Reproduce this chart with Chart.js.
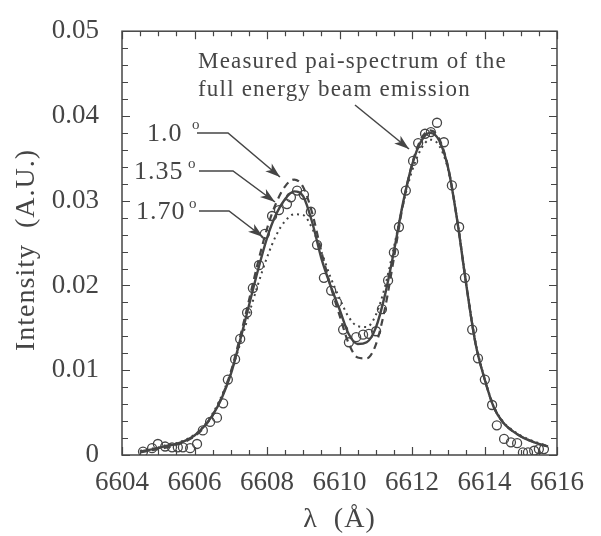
<!DOCTYPE html>
<html>
<head>
<meta charset="utf-8">
<script src="https://cdn.jsdelivr.net/npm/chart.js@4"></script>
<style>
  html, body { margin: 0; padding: 0; background: #ffffff; }
  canvas { display: block; }
</style>
</head>
<body>
<canvas id="chart" width="601" height="536"></canvas>
<script>
// wavelength grid of the fitted curves (Angstrom)
const lambdaFit = [
  6604.5, 6604.75, 6605.0, 6605.25, 6605.5, 6605.75, 6606.0, 6606.25, 6606.5, 6606.75,
  6607.0, 6607.25, 6607.5, 6607.75, 6608.0, 6608.25, 6608.5, 6608.75, 6609.0, 6609.25,
  6609.5, 6609.75, 6610.0, 6610.25, 6610.5, 6610.75, 6611.0, 6611.25, 6611.5, 6611.75,
  6612.0, 6612.25, 6612.5, 6612.75, 6613.0, 6613.25, 6613.5, 6613.75, 6614.0, 6614.25,
  6614.5, 6614.75, 6615.0, 6615.25, 6615.5, 6615.75
];
// 1.0 deg (dashed)
const fit10 = [
  0.0003, 0.0005, 0.0007, 0.0009, 0.0012, 0.0016, 0.0022, 0.0032, 0.0047, 0.0068,
  0.0098, 0.0138, 0.0182, 0.0227, 0.0267, 0.0297, 0.0317, 0.0325, 0.0316, 0.0285,
  0.0240, 0.0200, 0.0165, 0.0132, 0.0115, 0.0114, 0.0130, 0.0172, 0.0232, 0.0295,
  0.0343, 0.0373, 0.0383, 0.0373, 0.0339, 0.0276, 0.0200, 0.0132, 0.0090, 0.0057,
  0.0039, 0.0029, 0.0022, 0.0017, 0.0013, 0.0010
];
// 1.35 deg (solid)
const fit135 = [
  0.0004, 0.0006, 0.0008, 0.0011, 0.0013, 0.0017, 0.0023, 0.0033, 0.0047, 0.0067,
  0.0095, 0.0134, 0.0176, 0.0218, 0.0256, 0.0284, 0.0302, 0.0311, 0.0305, 0.0274,
  0.0232, 0.0200, 0.0172, 0.0143, 0.0131, 0.0133, 0.0150, 0.0188, 0.0240, 0.0297,
  0.0342, 0.0370, 0.0380, 0.0371, 0.0338, 0.0276, 0.0200, 0.0132, 0.0090, 0.0057,
  0.0039, 0.0029, 0.0022, 0.0017, 0.0013, 0.0010
];
// 1.70 deg (dotted)
const fit170 = [
  0.0005, 0.0007, 0.0009, 0.0012, 0.0014, 0.0018, 0.0024, 0.0034, 0.0049, 0.0070,
  0.0097, 0.0130, 0.0166, 0.0201, 0.0233, 0.0259, 0.0276, 0.0284, 0.0283, 0.0267,
  0.0240, 0.0210, 0.0185, 0.0163, 0.0152, 0.0151, 0.0165, 0.0198, 0.0245, 0.0295,
  0.0335, 0.0361, 0.0372, 0.0365, 0.0336, 0.0277, 0.0202, 0.0134, 0.0091, 0.0058,
  0.0040, 0.0030, 0.0023, 0.0018, 0.0014, 0.0011
];

// measured pai-spectrum (circles)
const lambdaMeas = [
  6604.58, 6604.83, 6604.99, 6605.19, 6605.38, 6605.54, 6605.68, 6605.88, 6606.07, 6606.23,
  6606.43, 6606.62, 6606.79, 6606.92, 6607.12, 6607.26, 6607.45, 6607.61, 6607.78, 6607.94,
  6608.14, 6608.33, 6608.55, 6608.66, 6608.83, 6609.02, 6609.21, 6609.38, 6609.57, 6609.77,
  6609.93, 6610.10, 6610.26, 6610.46, 6610.65, 6610.81, 6611.01, 6611.17, 6611.34, 6611.50,
  6611.64, 6611.83, 6612.03, 6612.17, 6612.36, 6612.52, 6612.69, 6612.88, 6613.10, 6613.30,
  6613.46, 6613.66, 6613.82, 6614.01, 6614.21, 6614.34, 6614.54, 6614.73, 6614.90, 6615.06,
  6615.20, 6615.37, 6615.50, 6615.64
];
const measured = [
  0.0004, 0.0008, 0.0013, 0.0010, 0.0009, 0.0009, 0.0009, 0.0008, 0.0013, 0.0029,
  0.0039, 0.0044, 0.0061, 0.0089, 0.0113, 0.0137, 0.0168, 0.0197, 0.0224, 0.0261,
  0.0282, 0.0289, 0.0296, 0.0304, 0.0312, 0.0307, 0.0287, 0.0248, 0.0209, 0.0194,
  0.0180, 0.0148, 0.0133, 0.0139, 0.0142, 0.0143, 0.0146, 0.0172, 0.0206, 0.0239,
  0.0269, 0.0312, 0.0347, 0.0368, 0.0379, 0.0381, 0.0392, 0.0369, 0.0318, 0.0269,
  0.0209, 0.0148, 0.0114, 0.0089, 0.0059, 0.0035, 0.0019, 0.0015, 0.0014, 0.0003,
  0.0003, 0.0005, 0.0007, 0.0007
];

const xTicks = [6604, 6606, 6608, 6610, 6612, 6614, 6616];
const yTicks = [0, 0.01, 0.02, 0.03, 0.04, 0.05];

const INK = "#454545";
const SERIF = "'Liberation Serif', 'Times New Roman', serif";

function toPoints(xs, ys) {
  return xs.map((x, i) => ({ x: x, y: ys[i] }));
}

function lineSet(label, ys, dash, width) {
  return {
    label: label,
    data: toPoints(lambdaFit, ys),
    showLine: true,
    borderColor: INK,
    borderWidth: width,
    borderDash: dash,
    pointRadius: 0,
    cubicInterpolationMode: "monotone",
    fill: false,
  };
}

// frame, inward ticks, axis titles and annotations
const decorations = {
  id: "decorations",
  beforeDraw(chart) {
    const ctx = chart.ctx;
    ctx.save();
    ctx.fillStyle = "#ffffff";
    ctx.fillRect(0, 0, chart.width, chart.height);
    ctx.restore();
  },
  afterDraw(chart) {
    const ctx = chart.ctx;
    const a = chart.chartArea;
    const xs = chart.scales.x;
    const ys = chart.scales.y;
    ctx.save();
    ctx.strokeStyle = INK;
    ctx.lineWidth = 1.5;
    ctx.strokeRect(a.left, a.top, a.right - a.left, a.bottom - a.top);

    ctx.lineWidth = 1.2;
    ctx.beginPath();
    for (let v = 6604; v <= 6616.001; v += 0.5) {
      const px = Math.round(xs.getPixelForValue(v)) + 0.5;
      const len = Math.abs(v % 2) < 0.01 ? 8 : 5;
      ctx.moveTo(px, a.bottom); ctx.lineTo(px, a.bottom - len);
      ctx.moveTo(px, a.top); ctx.lineTo(px, a.top + len);
    }
    for (let k = 0; k <= 25; k++) {
      const py = Math.round(ys.getPixelForValue(k * 0.002)) + 0.5;
      const len = k % 5 === 0 ? 8 : 6;
      ctx.moveTo(a.left, py); ctx.lineTo(a.left + len, py);
      ctx.moveTo(a.right, py); ctx.lineTo(a.right - len, py);
    }
    ctx.stroke();

    ctx.fillStyle = INK;
    ctx.textBaseline = "middle";

    // axis titles
    ctx.font = "28px " + SERIF;
    ctx.letterSpacing = "1px";
    ctx.textAlign = "center";
    ctx.fillText("λ  (Å)", (a.left + a.right) / 2, 520);
    ctx.save();
    ctx.translate(27, 250);
    ctx.rotate(-Math.PI / 2);
    ctx.fillText("Intensity  (A.U.)", 0, 0);
    ctx.restore();

    // measured-spectrum note
    ctx.font = "23px " + SERIF;
    ctx.letterSpacing = "1.2px";
    ctx.textAlign = "left";
    ctx.fillText("Measured pai-spectrum of the", 198, 62);
    ctx.fillText("full energy beam emission", 198, 90);

    // angle labels
    const labels = [
      { t: "1.0", x: 147, y: 134, ox: 192, oy: 125, l0: 197, l1: 228, tip: [280, 177] },
      { t: "1.35", x: 134, y: 172, ox: 188, oy: 164, l0: 199, l1: 233, tip: [275, 202] },
      { t: "1.70", x: 136, y: 212, ox: 189, oy: 204, l0: 199, l1: 229, tip: [263, 237] },
    ];
    ctx.letterSpacing = "1px";
    labels.forEach((d) => {
      ctx.font = "26px " + SERIF;
      ctx.fillText(d.t, d.x, d.y);
      ctx.font = "15px " + SERIF;
      ctx.fillText("o", d.ox, d.oy);
      arrow(ctx, [[d.l0, d.y - 1], [d.l1, d.y - 1], d.tip]);
    });
    arrow(ctx, [[355, 105], [409, 149]]);
    ctx.restore();
  },
};

function arrow(ctx, pts) {
  ctx.save();
  ctx.strokeStyle = INK;
  ctx.fillStyle = INK;
  ctx.lineWidth = 1.5;
  ctx.beginPath();
  ctx.moveTo(pts[0][0], pts[0][1]);
  for (let i = 1; i < pts.length; i++) ctx.lineTo(pts[i][0], pts[i][1]);
  ctx.stroke();
  const p = pts[pts.length - 2];
  const q = pts[pts.length - 1];
  const ang = Math.atan2(q[1] - p[1], q[0] - p[0]);
  ctx.translate(q[0], q[1]);
  ctx.rotate(ang);
  ctx.beginPath();
  ctx.moveTo(0, 0);
  ctx.lineTo(-15, -5);
  ctx.lineTo(-11, 0);
  ctx.lineTo(-15, 5);
  ctx.closePath();
  ctx.fill();
  ctx.restore();
}

const context = document.querySelector("#chart").getContext("2d");
new Chart(context, {
  type: "scatter",
  data: {
    datasets: [
      {
        label: "Measured",
        data: toPoints(lambdaMeas, measured),
        pointStyle: "circle",
        pointRadius: 4.5,
        pointBorderWidth: 1.3,
        pointBorderColor: INK,
        pointBackgroundColor: "rgba(255,255,255,0)",
        showLine: false,
      },
      lineSet("1.0°", fit10, [7, 5], 2.2),
      lineSet("1.35°", fit135, [], 2.4),
      lineSet("1.70°", fit170, [2, 4], 2),
    ],
  },
  options: {
    responsive: false,
    animation: false,
    layout: { padding: { left: 0, top: 24, right: 44, bottom: 0 } },
    plugins: {
      legend: { display: false },
      tooltip: { enabled: false },
    },
    scales: {
      x: {
        type: "linear",
        min: 6604,
        max: 6616,
        afterBuildTicks: (s) => { s.ticks = xTicks.map((v) => ({ value: v })); },
        afterFit: (s) => { s.height = 81; },
        grid: { display: false },
        border: { display: false },
        ticks: {
          callback: (v) => String(v),
          color: INK,
          padding: 4,
          maxRotation: 0,
          font: { family: SERIF, size: 27 },
        },
      },
      y: {
        type: "linear",
        min: 0,
        max: 0.05,
        afterBuildTicks: (s) => { s.ticks = yTicks.map((v) => ({ value: v })); },
        afterFit: (s) => { s.width = 122; },
        grid: { display: false },
        border: { display: false },
        ticks: {
          callback: (v) => (v === 0 ? "0" : v.toFixed(2)),
          color: INK,
          padding: 15,
          font: { family: SERIF, size: 27 },
        },
      },
    },
  },
  plugins: [decorations],
});
</script>
</body>
</html>
